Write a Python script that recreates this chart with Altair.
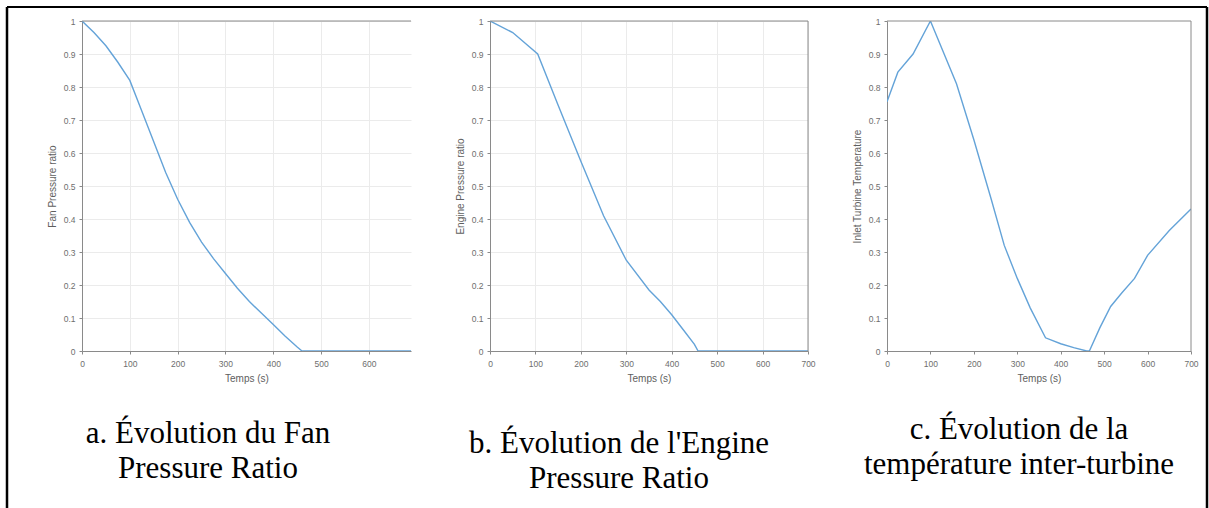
import altair as alt
import pandas as pd

# ---------------- data ----------------
fan_t = [0, 25, 50, 75, 100, 125, 150, 175, 200, 225, 250, 275, 300, 325, 350, 375, 400, 425, 450, 460, 500, 600, 700]
fan_y = [1.0, 0.965, 0.925, 0.875, 0.82, 0.727, 0.634, 0.541, 0.46, 0.39, 0.33, 0.28, 0.235, 0.19, 0.15, 0.115, 0.08, 0.045, 0.012, 0.0, 0.0, 0.0, 0.0]

epr_t = [0, 50, 105, 150, 200, 250, 300, 350, 375, 400, 425, 450, 458, 500, 600, 700]
epr_y = [1.0, 0.965, 0.90, 0.745, 0.575, 0.41, 0.275, 0.185, 0.15, 0.11, 0.065, 0.02, 0.0, 0.0, 0.0, 0.0]

itt_t = [0, 25, 60, 100, 160, 200, 240, 270, 300, 330, 365, 400, 430, 460, 466, 490, 515, 540, 570, 600, 650, 700]
itt_y = [0.755, 0.845, 0.9, 1.0, 0.81, 0.64, 0.46, 0.32, 0.22, 0.13, 0.04, 0.022, 0.01, 0.0, 0.0, 0.07, 0.135, 0.175, 0.22, 0.29, 0.365, 0.43]

x_ticks_full = [0, 100, 200, 300, 400, 500, 600, 700]
x_ticks_cut = [0, 100, 200, 300, 400, 500, 600]
y_ticks = [0, 0.1, 0.2, 0.3, 0.4, 0.5, 0.6, 0.7, 0.8, 0.9, 1.0]

captions = [
    ["a. Évolution du Fan", "Pressure Ratio"],
    ["b. Évolution de l'Engine", "Pressure Ratio"],
    ["c. Évolution de la", "température inter-turbine"],
]
y_titles = ["Fan Pressure ratio", "Engine Pressure ratio", "Inlet Turbine Temperature"]

BLUE = "#64a3d8"
AX = "#8a8a8a"
LAB = "#6e6e6e"
SANS = "Liberation Sans"
SERIF = "Liberation Serif"

one = pd.DataFrame({"k": [0]})


def panel(t, y, ytitle, caption, width, xmax, xticks, grid, right_box,
          cap_x, cap_y, page_border=False):
    df = pd.DataFrame({"t": t, "v": y})
    xs = alt.Scale(domain=[0, xmax], nice=False, zero=False)
    ys = alt.Scale(domain=[0, 1], nice=False)
    xaxis = alt.Axis(
        values=xticks, title="Temps (s)", grid=grid, gridColor="#ebebeb",
        domainColor=AX, tickColor=AX, tickSize=3, labelFont=SANS,
        labelFontSize=8.5, labelColor=LAB, labelPadding=5,
        titleFont=SANS, titleFontSize=10, titleFontWeight="normal",
        titleColor="#5e5e5e", titlePadding=6, labelFlush=False,
        labelOverlap=False)
    yaxis = alt.Axis(
        values=y_ticks, format=".1~f", title=ytitle, grid=grid,
        gridColor="#ebebeb", domainColor=AX, tickColor=AX, tickSize=3,
        labelFont=SANS, labelFontSize=8.5, labelColor=LAB, labelPadding=4,
        titleFont=SANS, titleFontSize=10, titleFontWeight="normal",
        titleColor="#5e5e5e", titlePadding=6, labelFlush=False,
        labelOverlap=False)
    line = alt.Chart(df).mark_line(color=BLUE, strokeWidth=1.4, clip=True).encode(
        x=alt.X("t:Q", scale=xs, axis=xaxis),
        y=alt.Y("v:Q", scale=ys, axis=yaxis),
    )
    layers = [line]
    layers.append(alt.Chart(one).mark_rule(color=AX, strokeWidth=1).encode(
        y=alt.YDatum(1.0, axis=yaxis, scale=ys)))
    if right_box:
        layers.append(alt.Chart(one).mark_rule(color=AX, strokeWidth=1).encode(
            x=alt.XDatum(xmax, axis=xaxis, scale=xs)))
    # caption under the panel
    layers.append(alt.Chart(one).mark_text(
        text=caption, font=SERIF, fontSize=31, lineHeight=35, color="black",
        align="center", baseline="alphabetic").encode(
        x=alt.value(cap_x), y=alt.value(cap_y)))
    if page_border:
        layers.append(alt.Chart(one).mark_rule(color="black", strokeWidth=2).encode(
            x=alt.value(-75), x2=alt.value(1125), y=alt.value(-14)))
        layers.append(alt.Chart(one).mark_rule(color="black", strokeWidth=2.5).encode(
            x=alt.value(-75), y=alt.value(-14), y2=alt.value(490)))
        layers.append(alt.Chart(one).mark_rule(color="black", strokeWidth=2.5).encode(
            x=alt.value(1125), y=alt.value(-14), y2=alt.value(490)))
    return alt.layer(*layers).properties(
        width=width, height=330,
        view=alt.ViewBackground(stroke=None),
    )


pa = panel(fan_t, fan_y, y_titles[0], captions[0], 329, 688, x_ticks_cut, True, False, 126, 422, page_border=True)
pb = panel(epr_t, epr_y, y_titles[1], captions[1], 318, 700, x_ticks_full, True, True, 129, 432)
pc = panel(itt_t, itt_y, y_titles[2], captions[2], 304, 700, x_ticks_full, False, True, 132, 418)

chart = alt.hconcat(pa, pb, pc, spacing=79, bounds="flush").properties(
    padding={"left": 5, "top": 5, "right": 0, "bottom": 0},
    background="white",
).configure_view(stroke=None)

chart.save("out.html", embed_options={"renderer": "svg", "actions": False})
